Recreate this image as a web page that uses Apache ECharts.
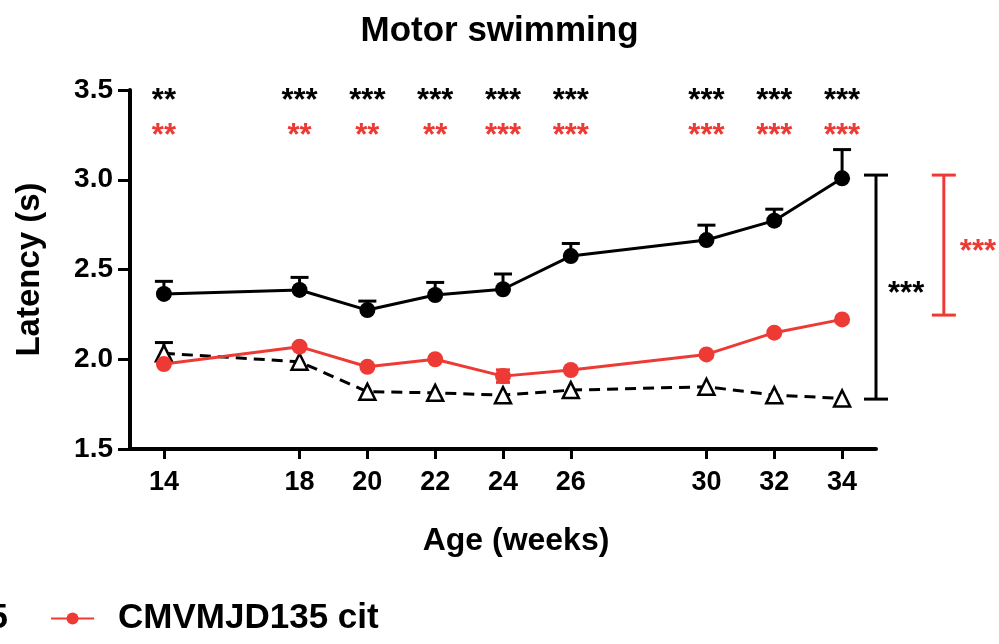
<!DOCTYPE html>
<html>
<head>
<meta charset="utf-8">
<script src="https://cdn.jsdelivr.net/npm/echarts@6/dist/echarts.min.js"></script>
<style>html,body{margin:0;padding:0;background:#fff;}#c{width:999px;height:644px;}</style>
</head>
<body>
<div id="c"></div>
<script>
// ---- data ----
const weeks = [14, 18, 20, 22, 24, 26, 30, 32, 34];
const mjdMean = [2.364, 2.386, 2.274, 2.358, 2.390, 2.575, 2.664, 2.772, 3.008];
const mjdErr  = [0.070, 0.070, 0.050, 0.070, 0.085, 0.070, 0.083, 0.064, 0.160];
const citMean = [1.973, 2.070, 1.958, 2.000, 1.906, 1.940, 2.027, 2.148, 2.222];
const citErr  = [0.020, 0.020, 0.020, 0.020, 0.035, 0.020, 0.020, 0.020, 0.020];
const wtMean  = [2.033, 1.986, 1.819, 1.813, 1.800, 1.828, 1.847, 1.800, 1.782];
const wtErr   = [0.060, 0.025, 0.020, 0.020, 0.020, 0.020, 0.020, 0.020, 0.020];
const starsMjd = ['**', '***', '***', '***', '***', '***', '***', '***', '***'];
const starsCit = ['**', '**', '**', '**', '***', '***', '***', '***', '***'];
const starLevelMjd = 3.435;
const starLevelCit = 3.24;
const bracketX = [35, 37];
const bracketLow = [1.778, 2.246];
const bracketHigh = [3.026, 3.026];
const bracketText = ['***', '***'];
const seriesNames = ['CMVMJD135', 'CMVMJD135 cit', 'wt'];

const BLACK = '#000000';
const RED = '#ee3a35';
const FONT = '"Liberation Sans", Arial, Helvetica, sans-serif';

// error bars much shorter than the symbol are hidden behind the symbol (as in the source figure)
function errRender(color, both, hw) {
  return function (params, api) {
    const x = api.value(0), m = api.value(1), e = api.value(2);
    const mid = api.coord([x, m]);
    const top = api.coord([x, m + e]);
    const bot = api.coord([x, both ? m - e : m]);
    if (mid[1] - top[1] < 5) return null;
    const st = { stroke: color, lineWidth: 3 };
    const ch = [
      { type: 'line', shape: { x1: top[0], y1: top[1], x2: bot[0], y2: bot[1] }, style: st },
      { type: 'line', shape: { x1: top[0] - hw, y1: top[1], x2: top[0] + hw, y2: top[1] }, style: st }
    ];
    if (both) ch.push({ type: 'line', shape: { x1: bot[0] - hw, y1: bot[1], x2: bot[0] + hw, y2: bot[1] }, style: st });
    return { type: 'group', children: ch };
  };
}

function starRender(labels, color) {
  return function (params, api) {
    const p = api.coord([api.value(0), api.value(1)]);
    return {
      type: 'text', x: p[0], y: p[1],
      style: { text: labels[params.dataIndex], fill: color, font: 'bold 31px ' + FONT, align: 'center', verticalAlign: 'middle' }
    };
  };
}

const bracketColors = [BLACK, RED];
function bracketRender(params, api) {
  const i = params.dataIndex;
  const x = api.value(0);
  const lo = api.coord([x, api.value(1)]);
  const hi = api.coord([x, api.value(2)]);
  const c = bracketColors[i];
  const hw = 12;
  const st = { stroke: c, lineWidth: 3 };
  return {
    type: 'group', children: [
      { type: 'line', shape: { x1: lo[0], y1: lo[1], x2: hi[0], y2: hi[1] }, style: st },
      { type: 'line', shape: { x1: lo[0] - hw, y1: lo[1], x2: lo[0] + hw, y2: lo[1] }, style: st },
      { type: 'line', shape: { x1: hi[0] - hw, y1: hi[1], x2: hi[0] + hw, y2: hi[1] }, style: st },
      { type: 'text', x: lo[0] + (i === 0 ? 12 : 16), y: (lo[1] + hi[1]) / 2 + 7,
        style: { text: bracketText[i], fill: c, font: 'bold 31px ' + FONT, align: 'left', verticalAlign: 'middle' } }
    ]
  };
}

const chart = echarts.init(document.getElementById('c'), null, { renderer: 'canvas' });
chart.setOption({
  animation: false,
  backgroundColor: '#fff',
  title: {
    text: 'Motor swimming', left: 'center', top: 9,
    textStyle: { fontFamily: FONT, fontWeight: 'bold', fontSize: 35, color: BLACK }
  },
  legend: {
    data: [seriesNames[0], seriesNames[1]],
    left: -275, top: 596, itemGap: 42, itemWidth: 43, itemHeight: 15,
    textStyle: { fontFamily: FONT, fontWeight: 'bold', fontSize: 35, color: BLACK, padding: [0, 0, 0, 19] }
  },
  grid: { left: 130, right: 123, top: 90, bottom: 195, containLabel: false },
  xAxis: {
    type: 'value', min: 13, max: 35,
    name: 'Age (weeks)', nameLocation: 'middle', nameGap: 76,
    nameTextStyle: { fontFamily: FONT, fontWeight: 'bold', fontSize: 32, color: BLACK, padding: [0, 0, 0, 26] },
    axisLine: { onZero: false, lineStyle: { color: BLACK, width: 4 } },
    axisTick: { customValues: weeks, length: 10, lineStyle: { color: BLACK, width: 3 } },
    axisLabel: { customValues: weeks, margin: 20, fontFamily: FONT, fontWeight: 'bold', fontSize: 27, color: BLACK },
    splitLine: { show: false }
  },
  yAxis: {
    type: 'value', min: 1.5, max: 3.5, interval: 0.5,
    name: 'Latency (s)', nameLocation: 'middle', nameGap: 84,
    nameTextStyle: { fontFamily: FONT, fontWeight: 'bold', fontSize: 33, color: BLACK },
    axisLine: { show: true, lineStyle: { color: BLACK, width: 4 } },
    axisTick: { show: true, length: 12, lineStyle: { color: BLACK, width: 3 } },
    axisLabel: { margin: 17, fontFamily: FONT, fontWeight: 'bold', fontSize: 28, color: BLACK,
      formatter: v => v.toFixed(1) },
    splitLine: { show: false }
  },
  series: [
    {
      name: seriesNames[0], type: 'line', data: weeks.map((w, i) => [w, mjdMean[i]]),
      symbol: 'circle', symbolSize: 16, z: 4,
      lineStyle: { color: BLACK, width: 3 }, itemStyle: { color: BLACK }
    },
    {
      name: seriesNames[1], type: 'line', data: weeks.map((w, i) => [w, citMean[i]]),
      symbol: 'circle', symbolSize: 16, z: 4,
      lineStyle: { color: RED, width: 3 }, itemStyle: { color: RED }
    },
    {
      name: seriesNames[2], type: 'line', data: weeks.map((w, i) => [w, wtMean[i]]),
      symbol: 'triangle', symbolSize: 16, z: 3,
      lineStyle: { color: BLACK, width: 3, type: [11, 7] },
      itemStyle: { color: '#fff', borderColor: BLACK, borderWidth: 2.5 }
    },
    { type: 'custom', z: 2, renderItem: errRender(BLACK, false, 9), data: weeks.map((w, i) => [w, mjdMean[i], mjdErr[i]]) },
    { type: 'custom', z: 5, renderItem: errRender(RED, true, 7), data: weeks.map((w, i) => [w, citMean[i], citErr[i]]) },
    { type: 'custom', z: 2, renderItem: errRender(BLACK, false, 9), data: weeks.map((w, i) => [w, wtMean[i], wtErr[i]]) },
    { type: 'custom', z: 5, clip: false, renderItem: starRender(starsMjd, BLACK), data: weeks.map(w => [w, starLevelMjd]) },
    { type: 'custom', z: 5, clip: false, renderItem: starRender(starsCit, RED), data: weeks.map(w => [w, starLevelCit]) },
    { type: 'custom', z: 5, clip: false, renderItem: bracketRender, data: bracketX.map((x, i) => [x, bracketLow[i], bracketHigh[i]]) }
  ]
});
</script>
</body>
</html>
